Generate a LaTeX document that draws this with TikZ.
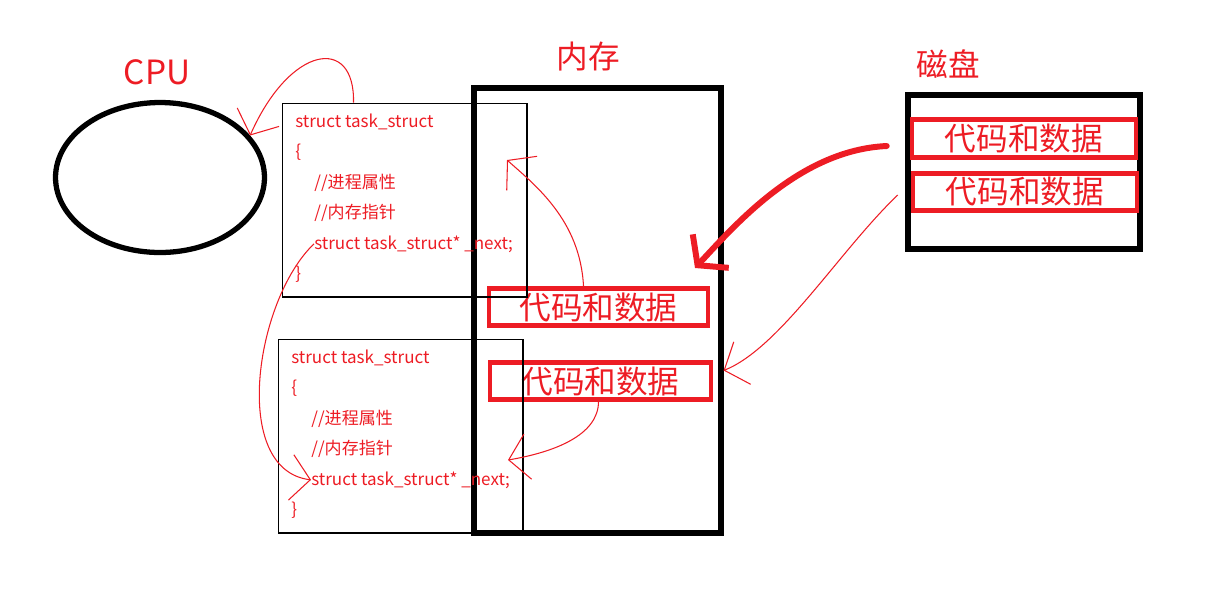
\documentclass[tikz,border=0pt]{standalone}
\usepackage{fontspec}
\setmainfont{Noto Sans CJK SC}
\usepackage{tikz}
\usetikzlibrary{shapes.geometric, arrows.meta, calc, positioning}
\definecolor{paintred}{RGB}{237,28,36}
\tikzset{
    thickbox/.style={draw=black, line width=3pt, inner sep=0pt},
    codebox/.style={draw=paintred, line width=2.6pt, inner sep=0pt, minimum height=0.75cm, text=paintred, font=\fontsize{18}{20}\selectfont},
    pcbbox/.style={draw=black, line width=0.6pt, minimum width=4.9cm, minimum height=3.88cm},
    codeline/.style={anchor=base west, inner sep=0pt, text=paintred, font=\fontsize{9.7}{11}\selectfont},
    biglabel/.style={text=paintred, font=\fontsize{18}{20}\selectfont},
    handarrow/.style={draw=paintred, line width=0.6pt, -{Straight Barb[length=11pt,width=26pt]}},
    bigarrow/.style={draw=paintred, line width=3.4pt, line cap=round, -{Straight Barb[length=11pt,width=28pt]}}
}

\begin{document}
\begin{tikzpicture}[x=0.02cm, y=-0.02cm]
        \useasboundingbox (0,0) rectangle (1223,600);

        \node[biglabel, font=\fontsize{19}{21}\selectfont] (cpulabel) at (157,72) {CPU};
        \node[ellipse, draw, line width=3pt, inner sep=0pt, minimum width=4.18cm, minimum height=3cm] (cpu) at (160,177.5) {};

        \node[thickbox, minimum width=4.94cm, minimum height=8.9cm] (mem) at (597.5,310.5) {};
        \node[biglabel] (memlabel) at (588,57) {内存};
        \node[thickbox, minimum width=4.64cm, minimum height=3.08cm] (disk) at (1024,172) {};
        \node[biglabel] (disklabel) at (948,64) {磁盘};

        \node[codebox, minimum width=4.48cm] (dcode1) at (1024,138.5) {代码和数据};
        \node[codebox, minimum width=4.48cm] (dcode2) at (1025,192) {代码和数据};
        \node[codebox, minimum width=4.38cm] (mcode1) at (598.5,307) {代码和数据\hspace{8pt}};
        \node[codebox, minimum width=4.42cm] (mcode2) at (600.5,381) {代码和数据\hspace{6pt}};

        \node[pcbbox] (pcb1) at (404.5,200) {};
        \node[codeline] (p1head) at (295,127) {struct task\_struct};
        \node[codeline] (p1open) at (295,157.5) {\{};
        \node[codeline] (p1attr) at (314,188) {//进程属性};
        \node[codeline] (p1mem) at (314,218.5) {//内存指针};
        \node[codeline] (p1next) at (314,249) {struct task\_struct* \_next;};
        \node[codeline] (p1close) at (295,279.5) {\}};

        \node[pcbbox] (pcb2) at (400.5,436) {};
        \node[codeline] (p2head) at (291,363) {struct task\_struct};
        \node[codeline] (p2open) at (291,393.5) {\{};
        \node[codeline] (p2attr) at (311,424) {//进程属性};
        \node[codeline] (p2mem) at (311,454.5) {//内存指针};
        \node[codeline] (p2next) at (311,485) {struct task\_struct* \_next;};
        \node[codeline] (p2close) at (291,515.5) {\}};

        \coordinate (p1tip) at (507,160);
        \coordinate (p2tip) at (508,460);
        \coordinate (memtip) at (695,268);

        % hand drawn links
        \draw[handarrow] ($(pcb1.north)+(-51,0)$) .. controls (355,35) and (290,45) .. (cpu.25);
        \draw[handarrow] (p1next.west) .. controls (255,300) and (230,470) .. (p2next.west);
        \draw[handarrow] ($(mcode1.north)+(-15,0)$) .. controls (580,220) and (535,185) .. (p1tip);
        \draw[handarrow] ($(mcode2.south)+(-2,0)$) .. controls (598,435) and (555,452) .. (p2tip);
        \draw[bigarrow] ($(dcode1.west)+(-23,7.5)$) .. controls (800,150) and (735,225) .. (memtip);
        \draw[handarrow] ($(dcode2.west)+(-13,3)$) .. controls (840,250) and (780,348) .. ($(mem.east)+(0,60)$);
    \end{tikzpicture}
\end{document}
